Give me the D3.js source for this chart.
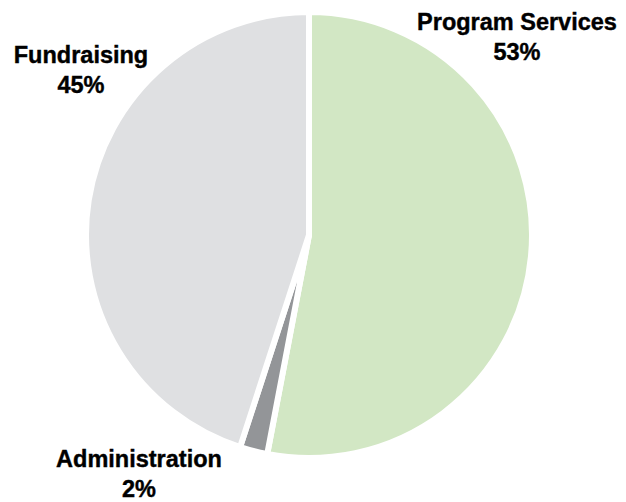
<!DOCTYPE html>
<html>
<head>
<meta charset="utf-8">
<script src="https://cdn.jsdelivr.net/npm/d3@7"></script>
<style>
  html, body { margin: 0; padding: 0; background: #fff; }
  text { font-family: "Liberation Sans", Arial, sans-serif; font-weight: bold; fill: #000; stroke: #000; stroke-width: 0.4px; }
</style>
</head>
<body>
<div id="chart"></div>
<script>
// data
const categories = ['Program Services', 'Administration', 'Fundraising']
const values = [53, 2, 45]
const colors = ['#d2e7c4', '#939598', '#dfe0e2']

// label positions (centre x, first baseline y)
const labelPos = [[517, 30], [139, 467], [81, 63]]

let width = 626
let height = 502
let cx = 309
let cy = 235
let radius = 223

let svg = d3.select('#chart').append('svg')
  .attr('width', width)
  .attr('height', height)

let pie = d3.pie().sort(null).value(d => d)
let arc = d3.arc().innerRadius(0).outerRadius(radius)

let g = svg.append('g').attr('transform', 'translate(' + cx + ',' + cy + ')')

g.selectAll('path')
  .data(pie(values))
  .enter()
  .append('path')
  .attr('d', arc)
  .attr('fill', (d, i) => colors[i])
  .attr('stroke', '#fff')
  .attr('stroke-width', 6)
  .attr('stroke-linejoin', 'miter')

// labels
categories.forEach((name, i) => {
  let t = svg.append('text')
    .attr('text-anchor', 'middle')
    .style('font-size', '23.5px')
  t.append('tspan').attr('x', labelPos[i][0]).attr('y', labelPos[i][1]).text(name)
  t.append('tspan').attr('x', labelPos[i][0]).attr('y', labelPos[i][1] + 30).text(values[i] + '%')
})
</script>
</body>
</html>
